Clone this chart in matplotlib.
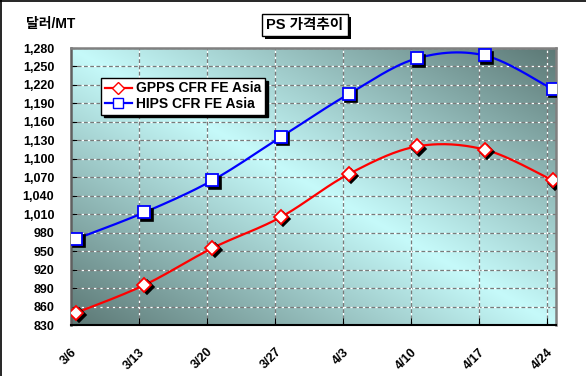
import numpy as np
import matplotlib
matplotlib.use("Agg")
import matplotlib.pyplot as plt
import matplotlib.patheffects as pe
from matplotlib.transforms import ScaledTranslation
from matplotlib.lines import Line2D

plt.rcParams['font.family'] = ['Liberation Sans', 'Noto Sans CJK KR', 'DejaVu Sans']

# ---- data ----
dates = ['3/6', '3/13', '3/20', '3/27', '4/3', '4/10', '4/17', '4/24']
gpps = [850, 895, 955, 1005, 1075, 1120, 1115, 1065]
hips = [970, 1013, 1065, 1135, 1205, 1263, 1268, 1213]
series_names = ['GPPS CFR FE Asia', 'HIPS CFR FE Asia']
yticks = list(range(830, 1281, 30))
title = 'PS 가격추이'
ylabel = '달러/MT'


def smooth(xs, ys, n=30):
    """Excel-style smoothed line (Catmull-Rom Bezier) through the points."""
    xs = np.asarray(xs, float)
    ys = np.asarray(ys, float)
    P = np.column_stack([xs, ys])
    P = np.vstack([P[0], P, P[-1]])
    out = []
    t = np.linspace(0, 1, n)[:, None]
    for i in range(1, len(P) - 2):
        p0, p1, p2, p3 = P[i - 1], P[i], P[i + 1], P[i + 2]
        c1 = p1 + (p2 - p0) / 6.0
        c2 = p2 - (p3 - p1) / 6.0
        seg = ((1 - t) ** 3) * p1 + 3 * ((1 - t) ** 2) * t * c1 + 3 * (1 - t) * t ** 2 * c2 + t ** 3 * p2
        out.append(seg if i == 1 else seg[1:])
    S = np.vstack(out)
    return S[:, 0], S[:, 1]


W, H = 586, 376
fig = plt.figure(figsize=(W / 100, H / 100), dpi=100)
fig.patch.set_facecolor('white')

# figure frame (top / left visible)
fig.add_artist(Line2D([0.5 / W, 0.5 / W], [0, 1], color='black', lw=1.2, transform=fig.transFigure))
fig.add_artist(Line2D([0, 1], [1 - 0.5 / H, 1 - 0.5 / H], color='black', lw=1.2, transform=fig.transFigure))

ax = fig.add_axes([71 / W, 51 / H, 485 / W, 277 / H])
ax.set_xlim(0, 7.13)
ax.set_ylim(830, 1280)

# gradient background
nx, ny = 300, 200
u = np.linspace(0, 1, nx)[None, :]
v = np.linspace(1, 0, ny)[:, None]
tt = np.clip(np.abs(u + v - 1.0), 0, 1)
light = np.array([0xc6, 0xfa, 0xfa]) / 255.0
dark = np.array([0x5c, 0x78, 0x75]) / 255.0
img = light[None, None, :] * (1 - tt[..., None]) + dark[None, None, :] * tt[..., None]
ax.imshow(img, extent=[0, 1, 0, 1], transform=ax.transAxes, aspect='auto', zorder=0, interpolation='bilinear')

xpos = np.arange(len(dates))
pts = xpos + 0.08

# gridlines
for y in yticks[1:]:
    ax.axhline(y, color='#7a7a7a', lw=0.9, linestyle=(0, (3, 2)), gapcolor='white', zorder=1)
for x in xpos[1:]:
    ax.axvline(x, color='#7a7a7a', lw=0.9, linestyle=(0, (3, 2)), gapcolor='white', zorder=1)

shadow = ax.transData + ScaledTranslation(2.2 / 100, -2.2 / 100, fig.dpi_scale_trans)

for vals, col, mk, ms in [(gpps, '#ff0000', 'D', 7), (hips, '#0000ff', 's', 8)]:
    sx, sy = smooth(pts, vals)
    ax.plot(sx, sy, color=col, lw=1.6, zorder=3, solid_capstyle='round')
    ax.plot(pts, vals, ls='none', marker=mk, ms=ms, mfc='black', mec='black', mew=1.2,
            transform=shadow, zorder=4)
    ax.plot(pts, vals, ls='none', marker=mk, ms=ms, mfc='white', mec=col, mew=1.3, zorder=5)

# axes styling
for s in ['top', 'right', 'left']:
    ax.spines[s].set_color('#808080')
    ax.spines[s].set_linewidth(1.8)
ax.spines['bottom'].set_color('black')
ax.spines['bottom'].set_linewidth(1.5)
ax.spines['left'].set_color('#606060')

ax.set_yticks(yticks)
ax.set_yticklabels([f'{y:,}' for y in yticks], fontsize=9, fontweight='bold')
ax.set_xticks(xpos)
ax.set_xticklabels(dates, fontsize=9, fontweight='bold', rotation=45, ha='right',
                   va='top', rotation_mode='anchor')
lab_shift = ScaledTranslation(-7 / 100, 0, fig.dpi_scale_trans)
for lab in ax.get_xticklabels():
    lab.set_transform(lab.get_transform() + lab_shift)
ax.tick_params(axis='y', direction='in', length=4, color='black', pad=12)
ax.tick_params(axis='x', direction='in', length=5, color='black', pad=15)

# legend
handles = [Line2D([], [], color='#ff0000', lw=1.6, marker='D', ms=6, mfc='white', mec='#ff0000'),
           Line2D([], [], color='#0000ff', lw=1.6, marker='s', ms=7, mfc='white', mec='#0000ff')]
leg = ax.legend(handles, series_names, loc='upper left', bbox_to_anchor=(0.062, 0.892),
                borderaxespad=0, fancybox=False, frameon=True, framealpha=1,
                edgecolor='black', prop={'weight': 'bold', 'size': 10},
                handlelength=2.0, handletextpad=0.3, labelspacing=0.12, borderpad=0.25,
                shadow={'color': 'black', 'alpha': 1}, numpoints=1)
leg.get_frame().set_linewidth(1.0)
leg.set_zorder(10)

# title
t = fig.text(305 / W, 1 - 25 / H, title, ha='center', va='center', fontsize=10.5, fontweight='bold',
             bbox=dict(boxstyle='square,pad=0.3', fc='white', ec='black', lw=1))
t.get_bbox_patch().set_path_effects([pe.SimplePatchShadow(offset=(2.2, -2.2), shadow_rgbFace='black', alpha=1),
                                     pe.Normal()])

fig.text(26 / W, 1 - 24 / H, ylabel, ha='left', va='center', fontsize=10, fontweight='bold')

fig.savefig('out.png', dpi=100)
